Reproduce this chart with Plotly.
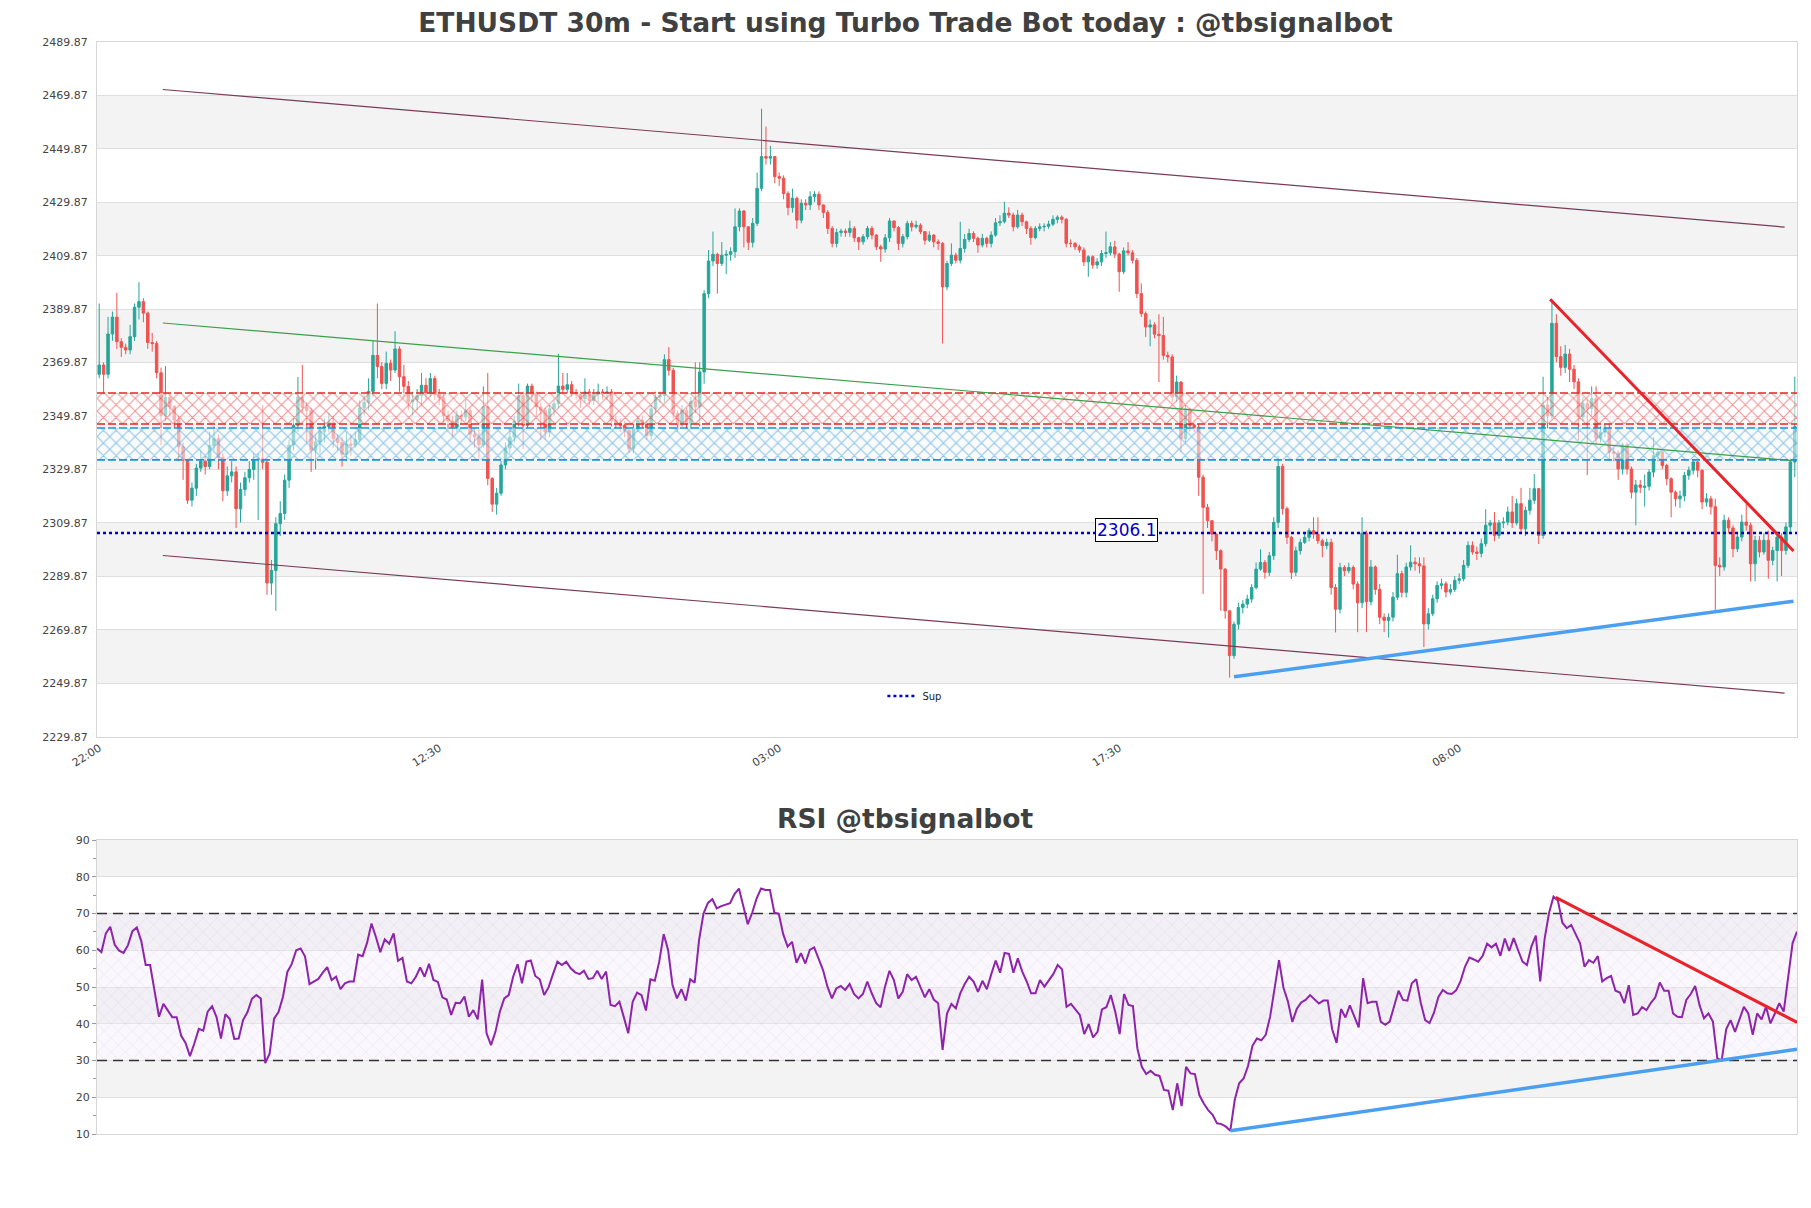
import plotly.graph_objects as go

# ---------------- data ----------------
TITLE = "ETHUSDT 30m - Start using Turbo Trade Bot today : @tbsignalbot"
RSI_TITLE = "RSI @tbsignalbot"
TICK_LABELS = ["22:00", "12:30", "03:00", "17:30", "08:00"]
TICK_EVERY = 77

FIRST_OPEN = 2365.5
CLOSE = [
    2369.0, 2365.5, 2380.6, 2386.9, 2377.7, 2375.6, 2374.6, 2379.6, 2390.6, 2392.7,
    2388.4, 2377.4, 2377.0, 2366.1, 2350.2, 2356.9, 2353.4, 2348.4, 2338.4, 2333.4,
    2318.4, 2322.9, 2330.4, 2333.0, 2331.0, 2338.9, 2341.4, 2334.4, 2321.9, 2327.5,
    2329.0, 2315.2, 2322.4, 2326.8, 2329.9, 2333.6, 2334.0, 2332.6, 2287.4, 2292.1,
    2309.6, 2313.4, 2325.9, 2339.0, 2346.4, 2356.9, 2353.1, 2352.0, 2337.1, 2340.2,
    2344.0, 2346.0, 2347.6, 2341.4, 2340.0, 2335.6, 2339.4, 2339.0, 2341.0, 2352.9,
    2355.0, 2359.1, 2372.6, 2368.4, 2362.1, 2369.6, 2367.1, 2375.0, 2364.6, 2361.0,
    2355.2, 2356.0, 2357.6, 2361.4, 2358.2, 2363.9, 2358.0, 2356.7, 2350.0, 2348.0,
    2345.7, 2350.1, 2349.5, 2351.9, 2343.1, 2342.0, 2339.1, 2353.4, 2326.5, 2316.9,
    2321.0, 2331.6, 2337.9, 2342.0, 2347.9, 2357.5, 2346.4, 2361.1, 2358.0, 2353.3,
    2352.0, 2343.9, 2352.6, 2354.5, 2361.1, 2359.9, 2361.6, 2358.6, 2358.2, 2356.4,
    2358.9, 2355.7, 2358.0, 2358.9, 2358.4, 2358.9, 2348.2, 2347.0, 2346.4, 2344.5,
    2337.6, 2345.1, 2348.2, 2347.0, 2342.6, 2352.6, 2357.0, 2357.6, 2371.0, 2367.0,
    2350.8, 2347.0, 2352.0, 2347.0, 2355.4, 2353.3, 2366.4, 2395.7, 2407.9, 2410.4,
    2407.0, 2410.1, 2410.4, 2411.4, 2420.7, 2426.6, 2420.7, 2414.9, 2422.0, 2435.1,
    2447.0, 2446.4, 2447.0, 2439.5, 2438.9, 2433.2, 2427.9, 2431.4, 2423.2, 2429.5,
    2428.9, 2432.0, 2432.9, 2428.9, 2426.1, 2420.1, 2414.5, 2418.6, 2419.1, 2418.6,
    2420.1, 2416.6, 2415.1, 2417.0, 2420.1, 2417.6, 2413.2, 2412.4, 2416.6, 2422.9,
    2420.4, 2414.5, 2417.0, 2422.0, 2420.7, 2421.3, 2418.9, 2415.7, 2417.6, 2415.1,
    2414.5, 2398.2, 2407.0, 2410.1, 2408.2, 2412.6, 2416.0, 2418.2, 2416.4, 2413.9,
    2416.4, 2414.5, 2417.6, 2422.2, 2422.6, 2425.8, 2425.1, 2420.7, 2425.1, 2422.6,
    2420.1, 2416.7, 2420.1, 2420.7, 2420.9, 2421.7, 2423.5, 2424.3, 2423.5, 2414.5,
    2414.5, 2413.2, 2412.0, 2407.6, 2409.5, 2406.4, 2407.6, 2410.7, 2411.0, 2413.2,
    2410.5, 2403.9, 2411.7, 2411.0, 2408.2, 2395.7, 2388.2, 2383.2, 2384.0, 2380.5,
    2380.0, 2372.6, 2372.0, 2357.0, 2362.6, 2341.4, 2352.6, 2346.4, 2345.7, 2327.0,
    2315.7, 2310.7, 2305.7, 2299.5, 2292.6, 2277.0, 2260.2, 2272.0, 2278.2, 2279.5,
    2281.4, 2285.7, 2292.6, 2295.1, 2291.4, 2297.6, 2310.1, 2331.0, 2315.2, 2304.5,
    2291.4, 2299.5, 2302.6, 2304.5, 2307.0, 2305.7, 2303.2, 2301.4, 2302.6, 2285.7,
    2277.6, 2293.2, 2292.0, 2293.2, 2287.0, 2280.0, 2306.0, 2280.4, 2293.4, 2285.0,
    2274.6, 2273.4, 2274.6, 2282.1, 2290.9, 2283.9, 2293.4, 2295.2, 2294.6, 2293.8,
    2272.1, 2275.9, 2281.5, 2286.5, 2287.1, 2284.0, 2285.0, 2288.4, 2289.0, 2294.0,
    2301.5, 2299.0, 2298.5, 2302.1, 2309.0, 2309.9, 2305.2, 2309.9, 2310.2, 2314.0,
    2309.9, 2317.1, 2307.7, 2314.6, 2318.4, 2322.7, 2305.2, 2354.0, 2350.0, 2384.6,
    2372.1, 2368.1, 2373.1, 2367.4, 2362.7, 2349.6, 2354.6, 2352.7, 2356.4, 2341.6,
    2343.9, 2345.4, 2336.4, 2336.0, 2330.1, 2339.1, 2330.1, 2321.4, 2324.1, 2323.2,
    2323.6, 2328.9, 2335.1, 2336.4, 2331.4, 2326.4, 2321.4, 2318.9, 2320.0, 2327.7,
    2329.6, 2332.7, 2329.6, 2317.7, 2318.9, 2315.9, 2294.0, 2293.4, 2310.9, 2308.0,
    2300.2, 2304.6, 2310.2, 2309.0, 2294.6, 2303.4, 2299.0, 2303.4, 2295.9, 2299.6,
    2304.6, 2299.6, 2308.4, 2332.7, 2345.9,
]
HIGH = [
    2392.0, 2370.0, 2387.0, 2389.0, 2396.0, 2379.0, 2377.0, 2384.0, 2392.0, 2400.0,
    2394.0, 2389.0, 2381.0, 2378.0, 2368.0, 2368.6, 2358.0, 2354.0, 2350.0, 2340.0,
    2334.0, 2325.0, 2332.0, 2337.0, 2335.0, 2344.0, 2346.0, 2343.0, 2336.0, 2331.0,
    2333.0, 2331.0, 2325.0, 2329.0, 2333.0, 2336.0, 2336.0, 2354.0, 2334.0, 2296.0,
    2312.0, 2318.0, 2328.0, 2341.0, 2349.0, 2364.5, 2369.0, 2355.0, 2353.0, 2343.0,
    2346.0, 2349.0, 2351.0, 2350.0, 2343.0, 2342.0, 2344.0, 2343.0, 2344.0, 2356.0,
    2358.0, 2364.0, 2378.0, 2392.0, 2370.0, 2374.0, 2371.0, 2381.6, 2376.0, 2369.0,
    2363.0, 2359.0, 2360.0, 2366.0, 2364.0, 2366.0, 2365.0, 2360.0, 2358.0, 2352.0,
    2350.0, 2352.0, 2352.0, 2356.0, 2353.0, 2345.0, 2345.0, 2361.0, 2366.0, 2327.0,
    2323.0, 2333.0, 2340.0, 2345.0, 2350.0, 2362.0, 2359.0, 2362.0, 2362.0, 2359.0,
    2355.0, 2353.0, 2354.0, 2356.0, 2373.2, 2366.0, 2366.0, 2363.0, 2360.0, 2359.0,
    2364.0, 2360.0, 2360.0, 2362.0, 2360.0, 2361.0, 2360.0, 2350.0, 2349.0, 2348.0,
    2345.0, 2347.0, 2350.0, 2350.0, 2348.0, 2354.0, 2359.0, 2359.0, 2373.0, 2375.7,
    2368.0, 2352.0, 2354.0, 2353.0, 2357.0, 2370.0, 2370.0, 2397.0, 2412.0, 2418.9,
    2411.0, 2415.0, 2412.0, 2413.0, 2427.6, 2427.6, 2427.0, 2421.0, 2424.0, 2441.0,
    2464.9, 2458.2, 2451.0, 2447.0, 2441.0, 2440.0, 2434.0, 2435.0, 2432.0, 2431.0,
    2431.0, 2434.0, 2434.0, 2434.0, 2429.0, 2427.0, 2421.0, 2420.0, 2420.0, 2420.0,
    2423.0, 2421.0, 2417.0, 2418.0, 2421.0, 2421.0, 2418.0, 2414.0, 2418.0, 2424.0,
    2423.0, 2421.0, 2418.0, 2423.0, 2423.0, 2423.0, 2422.0, 2419.0, 2419.0, 2418.0,
    2416.0, 2415.0, 2408.0, 2414.5, 2411.0, 2422.6, 2418.0, 2420.0, 2419.0, 2417.0,
    2418.0, 2417.0, 2419.0, 2424.0, 2425.0, 2430.1, 2428.0, 2426.0, 2427.0, 2426.0,
    2423.0, 2421.0, 2421.0, 2422.0, 2422.0, 2423.0, 2425.0, 2425.0, 2425.0, 2424.0,
    2416.0, 2415.0, 2414.0, 2413.0, 2410.0, 2410.0, 2409.0, 2412.0, 2418.9, 2415.0,
    2415.5, 2411.0, 2413.0, 2415.0, 2412.0, 2409.0, 2399.5, 2389.0, 2386.0, 2385.0,
    2388.0, 2387.0, 2374.0, 2373.0, 2365.0, 2363.0, 2354.0, 2353.0, 2347.0, 2347.0,
    2328.0, 2317.0, 2311.0, 2306.0, 2300.0, 2293.0, 2277.0, 2273.0, 2280.0, 2281.0,
    2283.0, 2287.0, 2295.1, 2300.0, 2296.0, 2299.0, 2312.0, 2335.0, 2332.0, 2316.0,
    2305.0, 2301.0, 2304.0, 2306.0, 2308.0, 2312.0, 2312.0, 2304.0, 2304.0, 2304.0,
    2287.0, 2295.0, 2294.0, 2295.0, 2294.0, 2288.0, 2312.0, 2307.0, 2296.0, 2294.0,
    2287.0, 2276.0, 2276.0, 2284.0, 2298.0, 2292.0, 2295.0, 2301.5, 2297.0, 2297.0,
    2297.0, 2278.0, 2283.0, 2288.0, 2289.0, 2288.0, 2287.0, 2290.0, 2291.0, 2296.0,
    2303.0, 2303.0, 2301.0, 2304.0, 2315.0, 2311.0, 2314.0, 2311.0, 2312.0, 2316.0,
    2320.0, 2319.0, 2323.0, 2316.0, 2323.0, 2328.2, 2323.0, 2364.6, 2357.0, 2393.6,
    2388.0, 2376.0, 2376.5, 2375.0, 2369.0, 2364.0, 2357.0, 2356.0, 2361.0, 2361.0,
    2346.0, 2347.0, 2347.0, 2338.0, 2337.0, 2340.0, 2340.0, 2331.0, 2326.0, 2326.0,
    2328.0, 2330.0, 2342.0, 2338.0, 2337.0, 2332.0, 2327.0, 2322.0, 2322.0, 2329.0,
    2331.0, 2334.0, 2333.0, 2330.0, 2321.0, 2320.0, 2319.0, 2297.0, 2313.0, 2312.0,
    2309.0, 2306.0, 2313.0, 2317.0, 2310.0, 2305.0, 2305.0, 2306.0, 2307.0, 2301.0,
    2306.0, 2306.0, 2310.0, 2334.0, 2364.6,
]
LOW = [
    2364.0, 2358.0, 2364.0, 2378.0, 2375.0, 2372.0, 2373.0, 2373.0, 2378.0, 2386.0,
    2385.0, 2375.0, 2374.0, 2364.0, 2339.0, 2348.0, 2350.0, 2345.0, 2333.0, 2326.0,
    2317.0, 2316.0, 2320.0, 2329.0, 2328.0, 2330.0, 2337.0, 2330.0, 2318.0, 2320.0,
    2325.0, 2308.0, 2310.0, 2320.0, 2325.0, 2326.0, 2311.0, 2330.0, 2283.0, 2283.0,
    2277.0, 2305.0, 2311.0, 2323.0, 2337.0, 2344.0, 2351.0, 2340.0, 2329.0, 2330.0,
    2336.0, 2340.0, 2344.0, 2338.0, 2337.0, 2331.0, 2333.0, 2335.0, 2338.0, 2340.0,
    2350.0, 2352.0, 2357.0, 2364.0, 2360.0, 2360.0, 2363.0, 2366.0, 2359.0, 2357.0,
    2352.0, 2350.0, 2352.0, 2354.0, 2356.0, 2357.0, 2356.0, 2354.0, 2347.0, 2345.0,
    2342.0, 2344.0, 2347.0, 2348.0, 2340.0, 2338.0, 2334.0, 2338.0, 2324.0, 2314.0,
    2313.0, 2320.0, 2330.0, 2336.0, 2340.0, 2346.0, 2337.6, 2345.0, 2355.0, 2350.0,
    2341.0, 2341.0, 2342.0, 2350.0, 2353.0, 2358.0, 2358.0, 2357.0, 2356.0, 2353.0,
    2355.0, 2354.0, 2354.0, 2355.0, 2356.0, 2356.0, 2346.0, 2345.0, 2344.0, 2342.0,
    2336.0, 2336.0, 2344.0, 2345.0, 2341.0, 2341.0, 2351.0, 2355.0, 2355.0, 2365.0,
    2349.0, 2344.0, 2346.0, 2345.0, 2345.0, 2351.0, 2346.0, 2362.0, 2394.0, 2406.0,
    2395.7, 2406.0, 2403.0, 2408.0, 2409.0, 2419.0, 2413.0, 2412.0, 2413.0, 2421.0,
    2434.0, 2444.0, 2444.0, 2437.0, 2436.0, 2431.0, 2425.0, 2426.0, 2420.0, 2422.0,
    2427.0, 2427.0, 2430.0, 2427.0, 2424.0, 2418.0, 2413.0, 2413.0, 2417.0, 2417.0,
    2417.0, 2415.0, 2412.0, 2414.0, 2416.0, 2416.0, 2412.0, 2407.6, 2411.0, 2415.0,
    2419.0, 2412.0, 2413.0, 2416.0, 2419.0, 2420.0, 2418.0, 2414.0, 2415.0, 2413.0,
    2412.0, 2377.0, 2397.0, 2406.0, 2407.0, 2407.0, 2411.0, 2415.0, 2415.0, 2411.0,
    2413.0, 2413.0, 2413.0, 2417.0, 2421.0, 2422.0, 2424.0, 2419.0, 2420.0, 2421.0,
    2418.0, 2414.0, 2416.0, 2419.0, 2419.0, 2420.0, 2421.0, 2422.0, 2422.0, 2413.0,
    2413.0, 2412.0, 2411.0, 2406.0, 2402.0, 2405.0, 2405.0, 2406.0, 2409.0, 2410.0,
    2409.0, 2396.4, 2403.0, 2410.0, 2407.0, 2394.0, 2387.0, 2379.5, 2376.0, 2379.0,
    2362.6, 2371.0, 2370.0, 2355.0, 2355.0, 2336.4, 2340.0, 2344.0, 2344.0, 2320.0,
    2283.3, 2308.0, 2303.0, 2296.0, 2277.0, 2274.0, 2252.0, 2259.0, 2270.0, 2276.0,
    2278.0, 2280.0, 2285.0, 2292.0, 2289.0, 2290.0, 2296.0, 2308.0, 2313.0, 2302.0,
    2288.9, 2290.0, 2298.0, 2302.0, 2303.0, 2304.0, 2302.0, 2297.0, 2300.0, 2283.0,
    2268.9, 2276.0, 2290.0, 2291.0, 2285.0, 2269.0, 2278.0, 2269.0, 2279.0, 2283.0,
    2272.0, 2269.0, 2267.0, 2273.0, 2281.0, 2282.0, 2282.0, 2292.0, 2292.0, 2291.0,
    2263.4, 2270.0, 2275.0, 2280.0, 2285.0, 2282.0, 2283.0, 2284.0, 2287.0, 2288.0,
    2293.0, 2298.0, 2296.0, 2297.0, 2301.0, 2307.0, 2303.0, 2304.0, 2308.0, 2309.0,
    2308.0, 2309.0, 2306.0, 2305.0, 2313.0, 2317.0, 2302.0, 2304.0, 2345.0, 2349.0,
    2370.0, 2365.0, 2366.0, 2362.6, 2360.0, 2340.9, 2348.0, 2327.8, 2350.0, 2339.0,
    2340.0, 2342.0, 2333.0, 2333.0, 2326.0, 2328.0, 2328.0, 2319.0, 2309.0, 2321.0,
    2316.0, 2322.0, 2327.0, 2333.0, 2330.0, 2324.0, 2312.0, 2316.0, 2315.5, 2318.0,
    2326.0, 2328.0, 2327.0, 2315.0, 2316.0, 2313.0, 2277.0, 2290.0, 2292.0, 2306.0,
    2297.0, 2299.0, 2303.0, 2307.0, 2288.0, 2288.0, 2297.0, 2298.0, 2289.0, 2294.0,
    2288.0, 2290.0, 2298.0, 2306.0, 2327.0,
]
RSI = [
    60.5, 59.5, 64.6, 66.4, 61.5, 59.9, 59.3, 61.4, 65.2, 66.2,
    62.5, 56.0, 56.0, 49.5, 41.9, 45.4, 43.6, 41.8, 41.8, 36.8,
    34.8, 31.2, 34.7, 38.6, 38.1, 43.3, 44.8, 41.8, 36.0, 42.6,
    41.3, 35.9, 36.0, 41.0, 43.2, 46.8, 47.8, 46.9, 29.3, 31.9,
    41.4, 43.2, 47.3, 54.1, 56.3, 60.0, 60.5, 58.3, 50.8, 51.5,
    52.2, 53.9, 55.4, 51.9, 52.8, 49.4, 51.0, 51.5, 51.5, 58.8,
    58.4, 62.0, 67.3, 63.6, 59.5, 63.0, 61.8, 64.6, 57.1, 57.9,
    51.5, 51.0, 52.7, 55.3, 52.8, 56.3, 51.9, 51.4, 47.2, 46.6,
    42.4, 45.7, 45.6, 47.4, 41.9, 43.7, 41.2, 52.0, 37.4, 34.2,
    37.8, 43.3, 46.9, 47.8, 52.8, 56.2, 51.0, 56.9, 57.2, 53.0,
    52.1, 47.8, 49.9, 53.5, 56.9, 56.0, 56.9, 55.1, 54.0, 53.5,
    54.4, 52.2, 52.4, 54.4, 52.2, 54.2, 45.1, 44.8, 46.0, 41.8,
    37.4, 46.0, 48.5, 47.8, 43.6, 52.1, 51.7, 56.9, 64.4, 60.1,
    50.5, 46.9, 49.4, 46.3, 52.1, 51.2, 62.8, 70.0, 72.9, 73.9,
    71.4, 72.0, 72.3, 72.8, 75.3, 76.8, 72.0, 67.1, 70.2, 74.1,
    76.8, 76.4, 76.4, 70.2, 69.9, 64.4, 61.0, 62.3, 56.6, 59.2,
    56.4, 60.1, 60.8, 57.8, 54.6, 50.1, 46.9, 49.6, 50.3, 49.2,
    50.8, 48.1, 46.9, 48.1, 51.5, 48.3, 45.6, 44.5, 50.1, 54.4,
    51.9, 46.9, 48.7, 53.5, 51.9, 52.8, 50.1, 47.2, 49.4, 46.6,
    45.6, 32.9, 42.8, 45.4, 44.2, 48.3, 50.8, 52.8, 51.5, 48.7,
    51.7, 49.4, 53.5, 57.2, 53.9, 59.3, 59.0, 53.9, 57.8, 54.2,
    51.5, 48.3, 48.3, 51.9, 50.1, 51.9, 53.5, 56.0, 54.8, 44.6,
    45.4, 43.9, 42.4, 37.2, 39.9, 36.3, 37.8, 43.9, 44.5, 47.8,
    43.3, 37.2, 48.1, 45.1, 44.8, 33.3, 28.3, 26.3, 27.2, 26.1,
    25.8, 22.0, 21.8, 16.5, 23.8, 17.6, 28.3, 26.5, 26.3, 20.6,
    18.3, 16.5, 15.2, 12.9, 12.7, 12.0, 10.9, 19.3, 23.8, 25.1,
    28.5, 34.0, 36.0, 35.5, 37.0, 42.0, 50.0, 57.3, 49.8, 46.1,
    40.5, 44.0, 45.8, 46.5, 47.8, 46.5, 45.5, 46.3, 46.3, 38.5,
    34.8, 44.0, 41.7, 45.0, 41.8, 39.0, 52.4, 45.6, 46.0, 46.0,
    40.5, 39.7, 40.6, 45.0, 49.0, 46.5, 46.3, 51.0, 52.1, 45.8,
    41.0, 40.2, 43.0, 47.3, 49.2, 48.3, 48.1, 49.1, 51.6, 55.5,
    58.0, 57.5, 56.9, 58.5, 61.8, 60.8, 61.8, 58.5, 63.2, 59.8,
    63.3, 60.0, 56.9, 56.0, 61.0, 64.0, 51.5, 63.2, 70.2, 74.6,
    73.5, 67.5, 66.0, 66.9, 64.4, 61.9, 55.5, 57.3, 56.6, 58.4,
    51.5, 52.4, 53.0, 49.0, 48.5, 45.6, 50.5, 42.4, 42.8, 44.5,
    43.7, 45.7, 47.2, 51.2, 49.0, 49.0, 42.8, 41.9, 41.8, 46.5,
    48.1, 50.3, 45.0, 41.5, 42.8, 40.6, 30.6, 30.1, 38.5, 41.0,
    37.8, 41.0, 44.6, 42.8, 37.0, 42.8, 41.2, 44.6, 40.1, 42.8,
    45.6, 43.3, 52.8, 61.9, 65.1,
]

SUP_NAME = "Sup"
SUP_LEVEL = 2306.1
SUP_LABEL_X = 232.6
RED_ZONE = [2346.9, 2358.5]
BLUE_ZONE = [2333.5, 2345.4]
CHANNEL_UPPER = {"x": [14.4, 381.7], "y": [2472.1, 2420.6]}
CHANNEL_LOWER = {"x": [14.4, 381.7], "y": [2297.7, 2246.2]}
CHANNEL_MID = {"x": [14.4, 383.5], "y": [2384.7, 2333.2]}
PRICE_DOWN_TREND = {"x": [328.6, 383.7], "y": [2393.6, 2299.4]}
PRICE_UP_TREND = {"x": [257.0, 383.7], "y": [2252.3, 2280.6]}
RSI_DOWN_TREND = {"x": [329.5, 384.0], "y": [74.4, 40.4]}
RSI_UP_TREND = {"x": [256.0, 384.0], "y": [10.9, 33.05]}
PRICE_MIN, PRICE_MAX, PRICE_STEP = 2229.87, 2489.87, 20
RSI_MIN, RSI_MAX = 10, 90
RSI_OVERBOUGHT, RSI_OVERSOLD = 70, 30

# ---------------- figure ----------------
N = len(CLOSE)
idx = list(range(N))
OPEN = [FIRST_OPEN] + CLOSE[:-1]
hi = [max(h, o, c) for h, o, c in zip(HIGH, OPEN, CLOSE)]
lo = [min(l, o, c) for l, o, c in zip(LOW, OPEN, CLOSE)]

FONT = "DejaVu Sans"
TEAL = "#26a69a"
RED = "#ef5350"
x0, x1 = -0.5, N - 0.5
rx0, rx1 = 0, len(RSI) - 1

fig = go.Figure()


def zone(lo_v, hi_v, color):
    fig.add_trace(go.Scatter(
        x=[x0, x1, x1, x0, x0], y=[lo_v, lo_v, hi_v, hi_v, lo_v],
        fill="toself", mode="lines", line=dict(width=0, color=color),
        fillcolor="rgba(255,255,255,0.5)",
        fillpattern=dict(shape="x", fgcolor=color, bgcolor="rgba(255,255,255,0.55)",
                         size=9, solidity=0.22),
        hoverinfo="skip", showlegend=False, xaxis="x", yaxis="y"))
    for v in (lo_v, hi_v):
        fig.add_trace(go.Scatter(
            x=[x0, x1], y=[v, v], mode="lines",
            line=dict(color=color, width=1.6, dash="8px,3px"),
            hoverinfo="skip", showlegend=False, xaxis="x", yaxis="y"))


zone(RED_ZONE[0], RED_ZONE[1], "#e3262b")
zone(BLUE_ZONE[0], BLUE_ZONE[1], "#1d93d8")

for ln, col in ((CHANNEL_UPPER, "#7a3b55"), (CHANNEL_LOWER, "#7a3b55"), (CHANNEL_MID, "#3aa04a")):
    fig.add_trace(go.Scatter(x=ln["x"], y=ln["y"], mode="lines",
                             line=dict(color=col, width=1.2), hoverinfo="skip",
                             showlegend=False, xaxis="x", yaxis="y"))

fig.add_trace(go.Scatter(x=[x0, x1], y=[SUP_LEVEL, SUP_LEVEL], mode="lines",
                         name=SUP_NAME, line=dict(color="#0000cc", width=2.5, dash="dot"),
                         showlegend=True, xaxis="x", yaxis="y"))

fig.add_trace(go.Candlestick(
    x=idx, open=OPEN, high=hi, low=lo, close=CLOSE,
    increasing=dict(line=dict(color=TEAL, width=1), fillcolor=TEAL),
    decreasing=dict(line=dict(color=RED, width=1), fillcolor=RED),
    whiskerwidth=0, showlegend=False, xaxis="x", yaxis="y"))

fig.add_trace(go.Scatter(x=PRICE_DOWN_TREND["x"], y=PRICE_DOWN_TREND["y"], mode="lines",
                         line=dict(color="#e8232a", width=3), showlegend=False,
                         hoverinfo="skip", xaxis="x", yaxis="y"))
fig.add_trace(go.Scatter(x=PRICE_UP_TREND["x"], y=PRICE_UP_TREND["y"], mode="lines",
                         line=dict(color="#4a9ff0", width=3.5), showlegend=False,
                         hoverinfo="skip", xaxis="x", yaxis="y"))

fig.add_trace(go.Scatter(
    x=[rx0, rx1, rx1, rx0, rx0],
    y=[RSI_OVERSOLD, RSI_OVERSOLD, RSI_OVERBOUGHT, RSI_OVERBOUGHT, RSI_OVERSOLD],
    fill="toself", mode="lines", line=dict(width=0),
    fillcolor="rgba(0,0,0,0)",
    fillpattern=dict(shape="x", fgcolor="rgba(170,140,200,0.6)", bgcolor="rgba(240,232,248,0.35)",
                     size=10, solidity=0.07),
    hoverinfo="skip", showlegend=False, xaxis="x2", yaxis="y2"))
for v in (RSI_OVERBOUGHT, RSI_OVERSOLD):
    fig.add_trace(go.Scatter(x=[rx0, rx1], y=[v, v], mode="lines",
                             line=dict(color="#333333", width=1.3, dash="10px,6px"),
                             hoverinfo="skip", showlegend=False, xaxis="x2", yaxis="y2"))

fig.add_trace(go.Scatter(x=list(range(len(RSI))), y=RSI, mode="lines",
                         line=dict(color="#8e24aa", width=2), showlegend=False,
                         xaxis="x2", yaxis="y2"))
fig.add_trace(go.Scatter(x=RSI_DOWN_TREND["x"], y=RSI_DOWN_TREND["y"], mode="lines",
                         line=dict(color="#e8232a", width=3), showlegend=False,
                         hoverinfo="skip", xaxis="x2", yaxis="y2"))
fig.add_trace(go.Scatter(x=RSI_UP_TREND["x"], y=RSI_UP_TREND["y"], mode="lines",
                         line=dict(color="#4a9ff0", width=3.5), showlegend=False,
                         hoverinfo="skip", xaxis="x2", yaxis="y2"))

shapes = []
v = PRICE_MIN + PRICE_STEP
k = 1
while v < PRICE_MAX - 1e-6:
    if k % 2 == 1:
        shapes.append(dict(type="rect", xref="x domain", yref="y", x0=0, x1=1,
                           y0=v, y1=v + PRICE_STEP, fillcolor="#f3f3f3",
                           line=dict(width=0), layer="below"))
    v += PRICE_STEP
    k += 1
for b in (20, 40, 60, 80):
    shapes.append(dict(type="rect", xref="x2 domain", yref="y2", x0=0, x1=1,
                       y0=b, y1=b + 10, fillcolor="#f3f3f3",
                       line=dict(width=0), layer="below"))

tickvals = list(range(0, N, TICK_EVERY))[:len(TICK_LABELS)]

axis_common = dict(showline=True, linecolor="#d6d6d6", linewidth=1, mirror=True, zeroline=False)

fig.update_layout(
    width=1811, height=1208,
    margin=dict(l=97, r=14, t=42, b=74),
    paper_bgcolor="white", plot_bgcolor="white",
    font=dict(family=FONT, color="#444444", size=11),
    boxgap=0.2,
    title=dict(text=TITLE, x=0.5, xref="container", xanchor="center",
               y=1 - 23 / 1208, yref="container", yanchor="middle",
               font=dict(family=FONT, size=26.5, color="#404040", weight="bold")),
    showlegend=True,
    legend=dict(x=0.462, y=0.401, xanchor="left", yanchor="middle",
                bgcolor="rgba(0,0,0,0)", font=dict(size=10, color="#222"),
                itemwidth=30),
    shapes=shapes,
    xaxis=dict(domain=[0, 1], anchor="y", range=[x0, x1], showgrid=False,
               tickmode="array", tickvals=tickvals, ticktext=TICK_LABELS,
               tickangle=-32, tickfont=dict(size=11, color="#444"),
               rangeslider=dict(visible=False), **axis_common),
    yaxis=dict(domain=[0.3638, 1.0], anchor="x", range=[PRICE_MIN, PRICE_MAX],
               tickmode="linear", tick0=PRICE_MIN, dtick=PRICE_STEP, tickformat=".2f",
               showgrid=True, gridcolor="#dedede", gridwidth=1,
               ticklabelstandoff=6,
               tickfont=dict(size=11, color="#444"), **axis_common),
    xaxis2=dict(domain=[0, 1], anchor="y2", range=[rx0, rx1], showgrid=False,
                showticklabels=False, ticks="", **axis_common),
    yaxis2=dict(domain=[0, 0.2692], anchor="x2", range=[RSI_MIN, RSI_MAX],
                tickmode="linear", tick0=RSI_MIN, dtick=10,
                showgrid=True, gridcolor="#dedede", ticks="outside", ticklen=4,
                tickcolor="#999",
                minor=dict(dtick=5, ticks="outside", ticklen=3, tickcolor="#999", showgrid=False),
                tickfont=dict(size=11, color="#444"), **axis_common),
    annotations=[
        dict(text=RSI_TITLE, xref="paper", yref="paper", x=(905 - 97) / 1700, y=0.2885,
             xanchor="center", yanchor="middle", showarrow=False,
             font=dict(family=FONT, size=26.5, color="#404040", weight="bold")),
        dict(text=f"{SUP_LEVEL}", xref="x", yref="y", x=SUP_LABEL_X, y=SUP_LEVEL + 1,
             showarrow=False, font=dict(family=FONT, size=17, color="#0000cc"),
             bgcolor="white", bordercolor="black", borderwidth=1, borderpad=1),
    ],
)

fig.write_html("out.html")
